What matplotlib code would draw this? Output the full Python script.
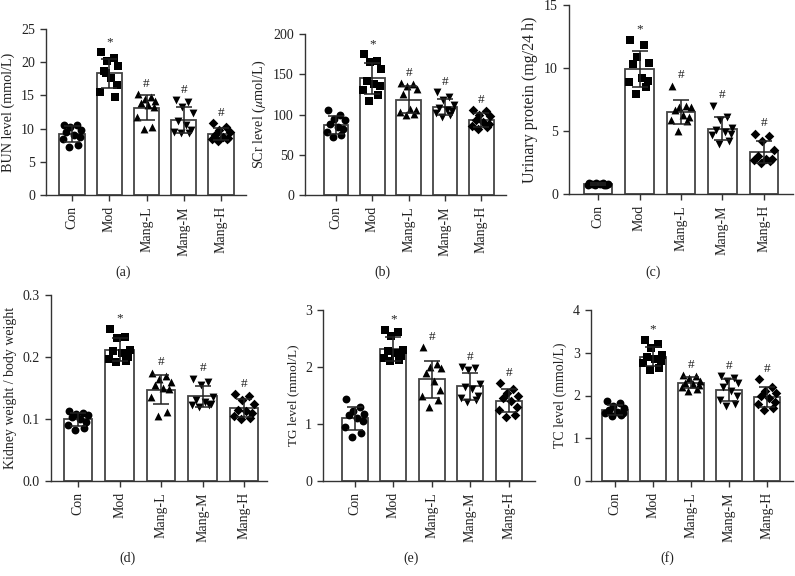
import numpy as np
import matplotlib
matplotlib.use("Agg")
import matplotlib.pyplot as plt

plt.rcParams['font.family'] = ['Liberation Serif', 'DejaVu Serif']
plt.rcParams['mathtext.fontset'] = 'stix'

groups = ['Con', 'Mod', 'Mang-L', 'Mang-M', 'Mang-H']
markers = ['o', 's', '^', 'v', 'D']

# individual values, one list per group
bun = [[10.5, 10.5, 10.2, 9.8, 9.5, 9.0, 8.7, 8.5, 7.5, 7.2],
       [21.5, 20.6, 20.2, 19.5, 18.6, 17.6, 16.6, 15.5, 14.7, 18.3],
       [15.2, 14.8, 14.5, 14.2, 13.9, 13.6, 13.2, 11.8, 10.3, 10.0],
       [14.3, 14.0, 13.2, 12.3, 11.2, 10.5, 9.8, 9.5, 9.4, 9.3],
       [10.8, 10.3, 9.8, 9.5, 9.0, 8.8, 8.6, 8.5, 8.4, 8.2]]
scr = [[105, 100, 95, 93, 88, 85, 82, 78, 75, 72],
       [175, 166, 165, 156, 142, 138, 136, 130, 124, 117],
       [139, 138, 136, 132, 126, 107, 105, 103, 101, 99],
       [128, 122, 118, 112, 108, 106, 104, 102, 100, 97],
       [106, 104, 100, 98, 93, 91, 88, 86, 84, 82]]
urine = [[0.9, 0.85, 0.85, 0.8, 0.8, 0.8, 0.75, 0.75, 0.7, 0.7],
         [12.2, 11.8, 10.9, 10.4, 10.3, 9.2, 9.0, 8.9, 8.5, 7.9],
         [8.6, 7.0, 6.9, 6.9, 6.7, 6.3, 6.1, 5.9, 5.8, 5.0],
         [7.0, 6.1, 5.9, 5.2, 5.1, 4.9, 4.8, 4.7, 4.2, 4.0],
         [4.8, 4.6, 4.2, 3.5, 3.0, 2.8, 2.8, 2.7, 2.6, 2.5]]
kidney = [[0.113, 0.11, 0.108, 0.106, 0.104, 0.1, 0.095, 0.09, 0.085, 0.082],
          [0.245, 0.233, 0.231, 0.212, 0.21, 0.207, 0.2, 0.196, 0.194, 0.192],
          [0.175, 0.17, 0.165, 0.16, 0.155, 0.15, 0.148, 0.135, 0.112, 0.105],
          [0.165, 0.16, 0.155, 0.135, 0.13, 0.128, 0.125, 0.123, 0.122, 0.12],
          [0.14, 0.137, 0.13, 0.125, 0.115, 0.113, 0.11, 0.105, 0.102, 0.1]]
tg = [[1.43, 1.3, 1.22, 1.18, 1.15, 1.1, 1.05, 0.95, 0.85, 0.78],
      [2.65, 2.62, 2.55, 2.3, 2.28, 2.25, 2.2, 2.15, 2.12, 2.1],
      [2.35, 2.05, 2.0, 1.98, 1.9, 1.75, 1.6, 1.5, 1.42, 1.3],
      [2.0, 1.98, 1.95, 1.7, 1.65, 1.62, 1.5, 1.45, 1.42, 1.38],
      [1.72, 1.62, 1.55, 1.5, 1.45, 1.4, 1.3, 1.25, 1.15, 1.12]]
tc = [[1.88, 1.82, 1.75, 1.7, 1.65, 1.62, 1.6, 1.58, 1.55, 1.52],
      [3.3, 3.2, 3.1, 2.95, 2.9, 2.85, 2.8, 2.75, 2.65, 2.6],
      [2.48, 2.45, 2.4, 2.35, 2.3, 2.28, 2.25, 2.2, 2.15, 2.1],
      [2.45, 2.4, 2.35, 2.3, 2.2, 2.1, 2.0, 1.9, 1.8, 1.75],
      [2.38, 2.2, 2.1, 2.05, 2.0, 1.95, 1.85, 1.8, 1.7, 1.65]]

ylabels = ['BUN level (mmol/L)', r'SCr level ($\mu$mol/L)', 'Urinary protein (mg/24 h)',
           'Kidney weight / body weight', 'TG level (mmol/L)', 'TC level (mmol/L)']
yticks = [[0, 5, 10, 15, 20, 25], [0, 50, 100, 150, 200], [0, 5, 10, 15],
          [0.0, 0.1, 0.2, 0.3], [0, 1, 2, 3], [0, 1, 2, 3, 4]]
panel_tags = ['(a)', '(b)', '(c)', '(d)', '(e)', '(f)']
datasets = [bun, scr, urine, kidney, tg, tc]

W, H = 795, 576
# axes boxes in pixels: left, right, top, bottom
boxes = [(46, 246, 29, 195), (305, 506, 34, 195), (569, 793, 5, 194),
         (51, 267, 295, 481), (323, 535, 310, 481), (591, 793, 310, 481)]
xlims = [(-0.70, 4.67), (-0.85, 4.68), (-0.70, 4.70),
         (-0.65, 4.55), (-0.83, 4.68), (-0.63, 4.68)]
tag_pos = [(123, 272), (382, 272), (653, 272), (127, 558), (411, 558), (667, 558)]
label_size = [10.2, 10.2, 11.5, 10, 9.5, 10]

jitter = np.array([-0.22, 0.12, -0.05, 0.24, -0.15, 0.05, 0.2, -0.25, 0.15, -0.08])
ink = '#333333'

fig = plt.figure(figsize=(W / 100, H / 100), dpi=100)
for k, data in enumerate(datasets):
    l, r, t, b = boxes[k]
    ax = fig.add_axes([l / W, 1 - b / H, (r - l) / W, (b - t) / H])
    x = np.arange(len(groups))
    means = [np.mean(g) for g in data]
    sds = [np.std(g, ddof=1) for g in data]
    ax.bar(x, means, width=0.68, color='white', edgecolor='#444444', linewidth=1.3, zorder=1)
    for i, g in enumerate(data):
        ms = 24 if markers[i] == 'D' else 32
        ax.scatter(x[i] + jitter[:len(g)], g, marker=markers[i], s=ms, color='black',
                   linewidths=0, zorder=3)
    ax.errorbar(x, means, yerr=sds, fmt='none', ecolor='#222222', elinewidth=1.1,
                capsize=5.5, capthick=1.1, zorder=4)
    ymax = yticks[k][-1]
    for i in range(1, len(groups)):
        sym = '*' if i == 1 else '#'
        top = max(means[i] + sds[i], max(data[i]))
        ax.text(x[i], top + 0.025 * ymax, sym, ha='center', va='bottom',
                fontsize=9.5, color='#222222')
    ax.set_ylim(0, ymax)
    ax.set_yticks(yticks[k])
    if k == 3:
        ax.set_yticklabels(['%.1f' % v for v in yticks[k]])
    ax.set_xlim(*xlims[k])
    ax.set_xticks(x)
    ax.set_xticklabels(groups, rotation=90)
    ax.set_ylabel(ylabels[k], fontsize=label_size[k], color='#222222')
    for side in ['top', 'right']:
        ax.spines[side].set_visible(False)
    for side in ['left', 'bottom']:
        ax.spines[side].set_color(ink)
        ax.spines[side].set_linewidth(1.0)
    ax.tick_params(axis='both', direction='out', length=4.5, width=1.0, color=ink,
                   labelsize=10, labelcolor='#222222')
    fig.text(tag_pos[k][0] / W, 1 - tag_pos[k][1] / H, panel_tags[k], ha='center',
             va='center', fontsize=10, color='#222222')

fig.savefig('out.png', dpi=100)
